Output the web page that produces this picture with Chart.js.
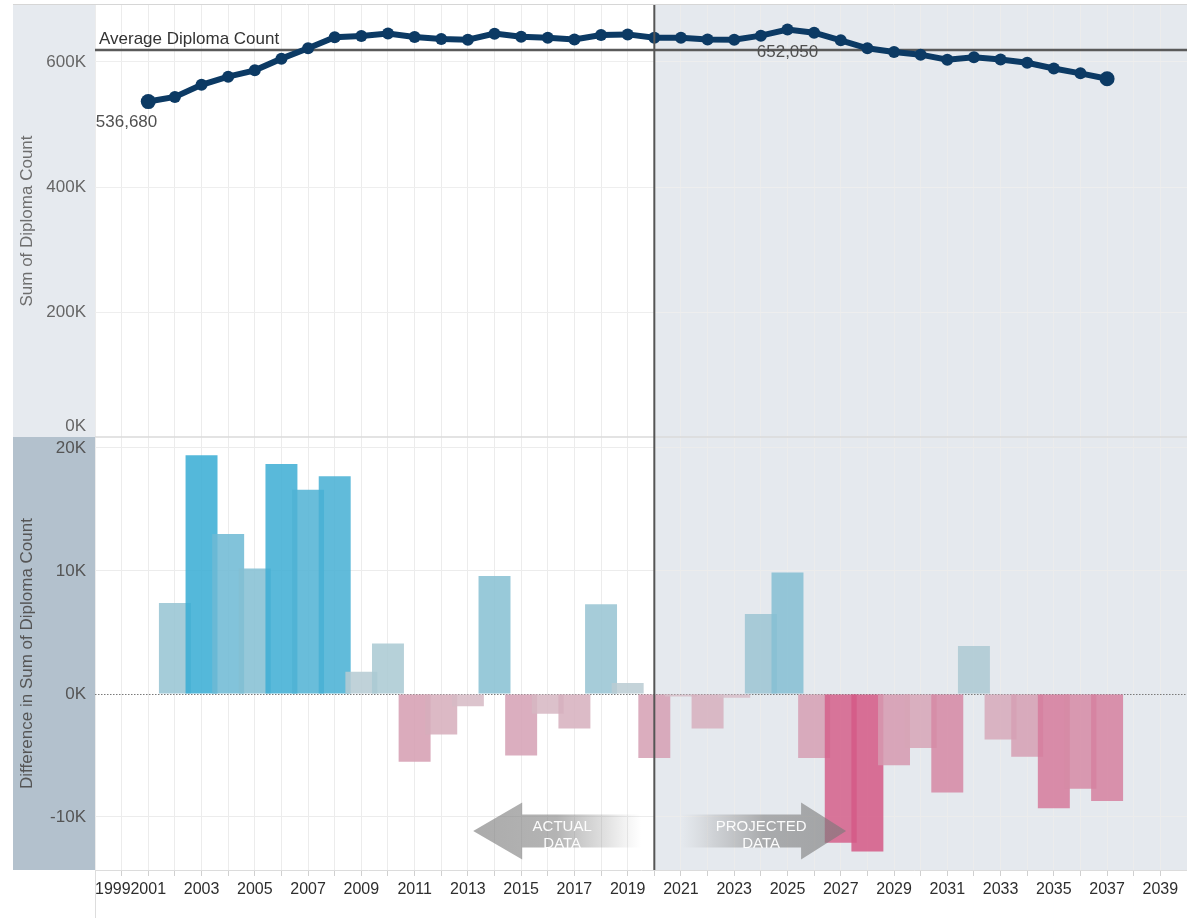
<!DOCTYPE html>
<html>
<head>
<meta charset="utf-8">
<title>Diploma Count: Actual and Projected</title>
<script src="https://cdn.jsdelivr.net/npm/chart.js@4.4.1/dist/chart.umd.min.js"></script>
<style>
  html, body { margin: 0; padding: 0; background: #ffffff; }
  #wrap { position: relative; width: 1187px; height: 918px; }
  canvas { display: block; }
</style>
</head>
<body>
<div id="wrap"><canvas id="chart" width="1187" height="918"></canvas></div>
<script>
// Graduating class years and the total diploma count for each
const years = [2001, 2002, 2003, 2004, 2005, 2006, 2007, 2008, 2009, 2010,
               2011, 2012, 2013, 2014, 2015, 2016, 2017, 2018, 2019, 2020,
               2021, 2022, 2023, 2024, 2025, 2026, 2027, 2028, 2029, 2030,
               2031, 2032, 2033, 2034, 2035, 2036, 2037];
const diplomaCount = [536680, 544080, 563480, 576480, 586680, 605380, 621980, 639680, 641480, 645580,
                      640080, 636780, 635780, 645380, 640380, 638780, 635980, 643280, 644180, 638980,
                      638780, 635980, 635680, 642180, 652050, 646850, 634750, 621950, 616150, 611750,
                      603750, 607650, 603950, 598850, 589550, 581850, 573150];

// Year-over-year change in the diploma count
const diffYears = [2002, 2003, 2004, 2005, 2006, 2007, 2008, 2009, 2010, 2011,
                   2012, 2013, 2014, 2015, 2016, 2017, 2018, 2019, 2020, 2021,
                   2022, 2023, 2024, 2025, 2026, 2027, 2028, 2029, 2030, 2031,
                   2032, 2033, 2034, 2035, 2036, 2037];
const diplomaDiff = [7400, 19400, 13000, 10200, 18700, 16600, 17700, 1800, 4100, -5500,
                     -3300, -1000, 9600, -5000, -1600, -2800, 7300, 900, -5200, -200,
                     -2800, -300, 6500, 9870, -5200, -12100, -12800, -5800, -4400, -8000,
                     3900, -3700, -5100, -9300, -7700, -8700];

const averageDiplomaCount = 619200;
const projectionStartYear = 2020;

// Axis ticks
const yearRange = [1999, 2040];
const yearLabels = ['1999', '2001', '2003', '2005', '2007', '2009', '2011', '2013', '2015', '2017',
                    '2019', '2021', '2023', '2025', '2027', '2029', '2031', '2033', '2035', '2037', '2039'];
const countTicks = [0, 200000, 400000, 600000];
const diffTicks = [-10000, 0, 10000, 20000];

const FONT = '"Liberation Sans", Arial, sans-serif';
Chart.defaults.font.family = FONT;

// Diverging colour: grey near zero, blue for gains, rose for losses
function mix(a, b, t) { return a.map((v, i) => Math.round(v + (b[i] - v) * t)); }
const maxGain = Math.max(...diplomaDiff);
const maxLoss = Math.abs(Math.min(...diplomaDiff));
function diffColor(v) {
  if (v >= 0) {
    const t = Math.pow(v / maxGain, 1.3);
    const c = mix([188, 205, 211], [56, 172, 212], t);
    return `rgba(${c[0]},${c[1]},${c[2]},0.86)`;
  }
  const t = Math.pow(-v / maxLoss, 1.3);
  const c = mix([214, 190, 199], [212, 90, 134], t);
  return `rgba(${c[0]},${c[1]},${c[2]},0.86)`;
}

function yearTickList() {
  const out = [];
  for (let y = yearRange[0]; y <= yearRange[1]; y++) out.push({ value: y });
  return out;
}

// keep the plot area flush with the panel edges
function noScalePadding(s) {
  s.paddingTop = 0; s.paddingBottom = 0; s.paddingLeft = 0; s.paddingRight = 0;
}

// Panel backgrounds, reference lines, labels and the actual/projected arrows
const decorations = {
  id: 'decorations',
  beforeDraw(chart) {
    const { ctx, chartArea: ca, scales } = chart;
    const x = scales.x, yTop = scales.yTop, yBot = scales.yBot;
    ctx.save();
    ctx.fillStyle = '#ffffff';
    ctx.fillRect(0, 0, chart.width, chart.height);
    // axis panels
    ctx.fillStyle = '#e6eaef';
    ctx.fillRect(yTop.left, yTop.top, yTop.right - yTop.left, yTop.bottom - yTop.top);
    ctx.fillStyle = '#b3c1cd';
    ctx.fillRect(yBot.left, yBot.top, yBot.right - yBot.left, yBot.bottom - yBot.top);
    // projected period shading
    const px = x.getPixelForValue(projectionStartYear);
    ctx.fillStyle = '#e5e9ee';
    ctx.fillRect(px, ca.top, ca.right - px, ca.bottom - ca.top);
    ctx.restore();
  },
  beforeDatasetsDraw(chart) {
    const { ctx, chartArea: ca, scales } = chart;
    const yTop = scales.yTop, yBot = scales.yBot;
    ctx.save();
    // top frame line
    ctx.strokeStyle = '#d6d6d6';
    ctx.lineWidth = 1;
    ctx.beginPath();
    ctx.moveTo(yTop.left, ca.top - 0.5);
    ctx.lineTo(ca.right, ca.top - 0.5);
    ctx.stroke();
    // panel separator
    ctx.strokeStyle = '#dadada';
    ctx.lineWidth = 1.5;
    ctx.beginPath();
    ctx.moveTo(ca.left, yTop.bottom);
    ctx.lineTo(ca.right, yTop.bottom);
    ctx.stroke();
    // left border down through the year labels
    ctx.strokeStyle = '#dddddd';
    ctx.lineWidth = 1;
    ctx.beginPath();
    ctx.moveTo(ca.left + 0.5, ca.bottom);
    ctx.lineTo(ca.left + 0.5, chart.height);
    ctx.stroke();
    // dotted zero line
    const y0 = Math.round(yBot.getPixelForValue(0)) + 0.5;
    ctx.strokeStyle = '#7a7a7a';
    ctx.setLineDash([1.5, 1.5]);
    ctx.beginPath();
    ctx.moveTo(ca.left, y0);
    ctx.lineTo(ca.right, y0);
    ctx.stroke();
    ctx.setLineDash([]);
    // average reference line
    const ya = yTop.getPixelForValue(averageDiplomaCount);
    ctx.strokeStyle = '#5a5a5a';
    ctx.lineWidth = 2.5;
    ctx.beginPath();
    ctx.moveTo(ca.left, ya);
    ctx.lineTo(ca.right, ya);
    ctx.stroke();
    ctx.fillStyle = '#333333';
    ctx.font = `17px ${FONT}`;
    ctx.textAlign = 'left';
    ctx.textBaseline = 'alphabetic';
    ctx.fillText('Average Diploma Count', ca.left + 4, ya - 6);
    ctx.restore();
  },
  afterDatasetsDraw(chart, args, opts) {
    const { ctx, chartArea: ca, scales } = chart;
    const x = scales.x, yBot = scales.yBot;
    ctx.save();
    // divider between actual and projected years
    const px = x.getPixelForValue(projectionStartYear);
    ctx.strokeStyle = '#555555';
    ctx.lineWidth = 2;
    ctx.beginPath();
    ctx.moveTo(px, ca.top);
    ctx.lineTo(px, ca.bottom);
    ctx.stroke();

    // value labels on the first point and the peak
    const meta = chart.getDatasetMeta(0);
    ctx.font = `17px ${FONT}`;
    ctx.fillStyle = '#505050';
    ctx.textBaseline = 'middle';
    const first = meta.data[0];
    ctx.textAlign = 'right';
    ctx.fillText(diplomaCount[0].toLocaleString('en-US'), first.x + 9, first.y + 21);
    const peak = diplomaCount.indexOf(Math.max(...diplomaCount));
    const pk = meta.data[peak];
    ctx.textAlign = 'center';
    ctx.fillText(diplomaCount[peak].toLocaleString('en-US'), pk.x, pk.y + 23);

    // arrows
    for (const a of opts.arrows) {
      const tail = x.getPixelForValue(a.from);
      const tip = x.getPixelForValue(a.to);
      const cy = yBot.getPixelForValue(a.at);
      const dir = tip < tail ? -1 : 1;
      const base = tip - dir * a.head;
      ctx.beginPath();
      ctx.moveTo(tip, cy);
      ctx.lineTo(base, cy - a.headHalf);
      ctx.lineTo(base, cy - a.shaftHalf);
      ctx.lineTo(tail, cy - a.shaftHalf);
      ctx.lineTo(tail, cy + a.shaftHalf);
      ctx.lineTo(base, cy + a.shaftHalf);
      ctx.lineTo(base, cy + a.headHalf);
      ctx.closePath();
      const g = ctx.createLinearGradient(tip, 0, tail, 0);
      g.addColorStop(0, 'rgba(120,120,120,0.62)');
      g.addColorStop(0.5, 'rgba(125,125,125,0.58)');
      g.addColorStop(0.8, 'rgba(140,140,140,0.25)');
      g.addColorStop(1, 'rgba(160,160,160,0)');
      ctx.fillStyle = g;
      ctx.fill();
      const tx = base - dir * 40;
      ctx.fillStyle = 'rgba(255,255,255,0.95)';
      ctx.font = `15px ${FONT}`;
      ctx.textAlign = 'center';
      ctx.textBaseline = 'middle';
      ctx.fillText(a.text[0], tx, cy - 4);
      ctx.fillText(a.text[1], tx, cy + 13);
    }
    ctx.restore();
  }
};

new Chart(document.getElementById('chart'), {
  type: 'line',
  data: {
    datasets: [
      {
        type: 'line',
        label: 'Sum of Diploma Count',
        data: years.map((yr, i) => ({ x: yr, y: diplomaCount[i] })),
        xAxisID: 'x',
        yAxisID: 'yTop',
        borderColor: '#0c3a64',
        backgroundColor: '#0c3a64',
        borderWidth: 6,
        pointRadius: c => (c.dataIndex === 0 || c.dataIndex === years.length - 1) ? 7.5 : 6,
        pointBorderWidth: 0,
        tension: 0
      },
      {
        type: 'bar',
        label: 'Difference in Sum of Diploma Count',
        data: diffYears.map((yr, i) => ({ x: yr, y: diplomaDiff[i] })),
        xAxisID: 'x',
        yAxisID: 'yBot',
        backgroundColor: c => diffColor(c.raw ? c.raw.y : 0),
        borderWidth: 0,
        categoryPercentage: 1,
        barPercentage: 1.2
      }
    ]
  },
  options: {
    responsive: false,
    animation: false,
    layout: { autoPadding: false, padding: { left: 13, top: 5, right: 0, bottom: 0 } },
    plugins: {
      legend: { display: false },
      tooltip: { enabled: false },
      decorations: {
        arrows: [
          { text: ['ACTUAL', 'DATA'], from: 2019.5, to: 2013.2, at: -11140, head: 49, headHalf: 28.5, shaftHalf: 16.5 },
          { text: ['PROJECTED', 'DATA'], from: 2021.0, to: 2027.2, at: -11140, head: 45, headHalf: 28.5, shaftHalf: 16.5 }
        ]
      }
    },
    scales: {
      x: {
        type: 'linear',
        position: 'bottom',
        min: yearRange[0],
        max: yearRange[1],
        offset: false,
        afterBuildTicks: s => { s.ticks = yearTickList(); },
        afterFit: s => { s.height = 48; noScalePadding(s); },
        ticks: {
          autoSkip: false,
          maxRotation: 0,
          align: 'inner',
          padding: 4,
          color: '#2e2e2e',
          font: { size: 16 },
          callback: v => yearLabels.includes(String(v)) ? String(v) : ''
        },
        grid: { offset: false, color: '#ececec', tickColor: '#d0d0d0', tickLength: 6 },
        border: { color: '#dcdcdc' }
      },
      yBot: {
        type: 'linear',
        position: 'left',
        stack: 'panels',
        stackWeight: 433,
        min: -14310,
        max: 20890,
        afterBuildTicks: s => { s.ticks = diffTicks.map(v => ({ value: v })); },
        afterFit: s => { s.width = 82; noScalePadding(s); },
        ticks: {
          padding: 9,
          color: '#555555',
          font: { size: 17 },
          callback: v => (v / 1000) + 'K'
        },
        grid: { drawTicks: false, color: c => (c.tick && c.tick.value === 0) ? 'rgba(0,0,0,0)' : '#ececec' },
        border: { display: false },
        title: { display: true, text: 'Difference in Sum of Diploma Count', color: '#555555', font: { size: 17 }, padding: { top: 4, bottom: 0 } }
      },
      yTop: {
        type: 'linear',
        position: 'left',
        stack: 'panels',
        stackWeight: 432,
        min: 0,
        max: 691200,
        afterBuildTicks: s => { s.ticks = countTicks.map(v => ({ value: v })); },
        afterFit: s => { s.width = 82; noScalePadding(s); },
        ticks: {
          padding: 9,
          color: '#666666',
          font: { size: 17 },
          callback: v => v === 0 ? ['0K', ''] : (v / 1000) + 'K'
        },
        grid: { drawTicks: false, color: c => (c.tick && c.tick.value === 0) ? 'rgba(0,0,0,0)' : '#eeeeee' },
        border: { display: false },
        title: { display: true, text: 'Sum of Diploma Count', color: '#6e6e6e', font: { size: 17 }, padding: { top: 4, bottom: 0 } }
      }
    }
  },
  plugins: [decorations]
});
</script>
</body>
</html>
